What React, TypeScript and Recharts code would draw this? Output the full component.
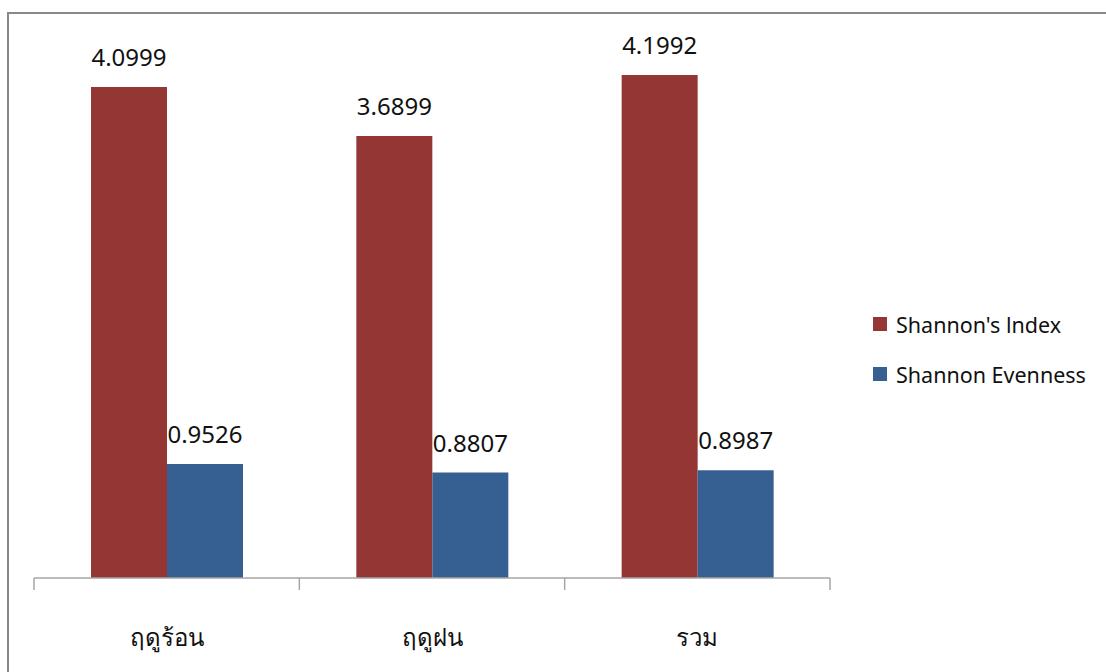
import React from 'react';
import { BarChart, Bar, XAxis, YAxis, LabelList, Legend } from 'recharts';

const categories = ['ฤดูร้อน', 'ฤดูฝน', 'รวม'];
const shannonIndex = [4.0999, 3.6899, 4.1992];
const shannonEvenness = [0.9526, 0.8807, 0.8987];
const seriesNames = ["Shannon's lndex", 'Shannon Evenness'];
const boundaryTicks = [0, 1, 2, 3];

const data = categories.map((c, i) => ({
  name: c,
  idx: shannonIndex[i],
  even: shannonEvenness[i],
  pos: i + 0.5,
}));

const FONT = "'Noto Sans', 'DejaVu Sans', sans-serif";
const RED = '#943634';
const BLUE = '#366092';
const LEGEND_W = 230;

const fmt = (v: any) => Number(v).toFixed(4);

const LegendContent = () => (
  <div style={{ fontFamily: FONT }}>
    {[RED, BLUE].map((c, i) => (
      <div key={i} style={{ display: 'flex', alignItems: 'center', height: 26, marginBottom: i === 0 ? 24 : 0 }}>
        <div style={{ width: 14, height: 14, background: c, marginRight: 9 }} />
        <span style={{ fontSize: 21.5, color: '#111', whiteSpace: 'nowrap' }}>{seriesNames[i]}</span>
      </div>
    ))}
  </div>
);

const EmptyTick = () => <g />;

export default function App() {
  return (
    <div style={{ position: 'absolute', left: 0, top: 0, width: 1106, height: 672, overflow: 'hidden', background: '#fff' }}>
      <div style={{ position: 'absolute', left: 7, top: 12, width: 1200, height: 800, border: '2px solid #888', boxSizing: 'border-box' }} />
      <div style={{ position: 'absolute', left: 0, top: 0 }}>
        <BarChart
          width={1106}
          height={672}
          data={data}
          margin={{ top: 39, right: 276 - LEGEND_W, left: 34, bottom: 0 }}
          barGap={0}
        >
          <YAxis hide domain={[0, 4.5]} />
          <XAxis
            xAxisId="b"
            type="number"
            dataKey="pos"
            domain={[0, 3]}
            ticks={boundaryTicks}
            height={1}
            axisLine={{ stroke: '#a6a6a6', strokeWidth: 1.5 }}
            tickLine={{ stroke: '#a6a6a6', strokeWidth: 1.5 }}
            tickSize={12}
            tick={<EmptyTick />}
            interval={0}
          />
          <XAxis
            xAxisId="cat"
            dataKey="name"
            height={93}
            axisLine={false}
            tickLine={false}
            tickSize={0}
            tickMargin={50}
            tick={{ fontSize: 24, fill: '#111', fontFamily: FONT }}
          />
          <Legend
            verticalAlign="middle"
            align="right"
            layout="horizontal"
            content={<LegendContent />}
            wrapperStyle={{ position: 'absolute', left: 873, top: 311, width: LEGEND_W }}
          />
          <Bar xAxisId="cat" dataKey="idx" name={seriesNames[0]} fill={RED} barSize={76} isAnimationActive={false}>
            <LabelList dataKey="idx" position="top" offset={21} formatter={fmt} style={{ fontSize: 24, fill: '#111', fontFamily: FONT }} />
          </Bar>
          <Bar xAxisId="cat" dataKey="even" name={seriesNames[1]} fill={BLUE} barSize={76} isAnimationActive={false}>
            <LabelList dataKey="even" position="top" offset={21} formatter={fmt} style={{ fontSize: 24, fill: '#111', fontFamily: FONT }} />
          </Bar>
        </BarChart>
      </div>
    </div>
  );
}
